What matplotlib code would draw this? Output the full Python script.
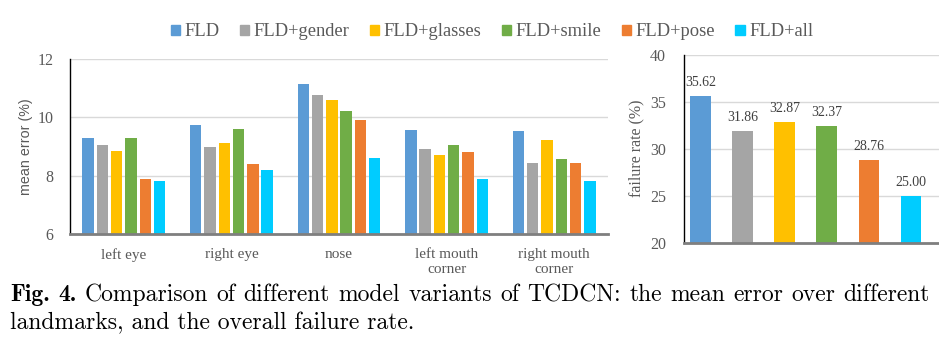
import numpy as np
import matplotlib
matplotlib.use('Agg')
from matplotlib import pyplot as plt
from matplotlib.patches import Patch

landmarks = ['left eye', 'right eye', 'nose', 'left mouth\ncorner', 'right mouth\ncorner']
models = ['FLD', 'FLD+gender', 'FLD+glasses', 'FLD+smile', 'FLD+pose', 'FLD+all']
colors = ['#5B9BD5', '#A5A5A5', '#FFC000', '#70AD47', '#ED7D31', '#00CCFF']

# mean error (%) per landmark, one list per model
err_fld = [9.30, 9.74, 11.15, 9.58, 9.54]
err_gender = [9.06, 8.98, 10.77, 8.90, 8.42]
err_glasses = [8.83, 9.12, 10.60, 8.71, 9.22]
err_smile = [9.30, 9.60, 10.22, 9.04, 8.56]
err_pose = [7.88, 8.39, 9.92, 8.80, 8.42]
err_all = [7.82, 8.21, 8.60, 7.88, 7.81]
errors = [err_fld, err_gender, err_glasses, err_smile, err_pose, err_all]

failure = [35.62, 31.86, 32.87, 32.37, 28.76, 25.00]

caption1 = 'Comparison of different model variants of TCDCN: the mean error over different'
caption2 = 'landmarks, and the overall failure rate.'

grey = '#595959'
serif = ['Liberation Serif', 'DejaVu Serif']
W, H = 939, 342

fig = plt.figure(figsize=(9.39, 3.42), dpi=100)

# left: mean error
ax1 = fig.add_axes([70 / W, 1 - 234 / H, 538 / W, 175 / H])
x = np.arange(len(landmarks))
pitch = 0.133
for i, (vals, c) in enumerate(zip(errors, colors)):
    ax1.bar(x + (i - 2.5) * pitch, vals, width=0.106, color=c, zorder=3)
ax1.set_ylim(6, 12)
ax1.set_xlim(-0.5, 4.5)
ax1.set_yticks([6, 8, 10, 12])
ax1.set_xticks(x)
ax1.set_xticklabels(landmarks, family=serif, fontsize=11, color=grey, linespacing=1.25)
for lab in ax1.get_yticklabels():
    lab.set_family(serif)
ax1.tick_params(axis='y', length=0, pad=12, labelsize=11.5, labelcolor=grey)
ax1.tick_params(axis='x', length=0, pad=10)
ax1.grid(axis='y', color='#D9D9D9', lw=1, zorder=0)
ax1.set_ylabel('mean error (%)', family=['Liberation Sans', 'DejaVu Sans'], fontsize=10.3,
               color=grey, labelpad=3)
for s in ['top', 'right']:
    ax1.spines[s].set_visible(False)
ax1.spines['left'].set_color('black')
ax1.spines['left'].set_linewidth(1)
ax1.spines['bottom'].set_color('#7F7F7F')
ax1.spines['bottom'].set_linewidth(2)
ax1.spines['bottom'].set_zorder(4)

# right: failure rate
ax2 = fig.add_axes([684 / W, 1 - 242.7 / H, 255 / W, 188 / H])
xf = np.arange(len(failure))
bars = ax2.bar(xf, failure, width=0.49, color=colors, zorder=3)
for b, v in zip(bars, failure):
    ax2.text(b.get_x() + b.get_width() / 2, v + 0.75, f'{v:.2f}', ha='center', va='bottom',
             family=serif, fontsize=10, color='#404040')
ax2.set_ylim(20, 40)
ax2.set_xlim(-0.386, 5.66)
ax2.set_yticks([20, 25, 30, 35, 40])
ax2.set_xticks([])
for lab in ax2.get_yticklabels():
    lab.set_family(serif)
ax2.tick_params(axis='y', length=0, pad=13, labelsize=11.5, labelcolor=grey)
ax2.grid(axis='y', color='#D9D9D9', lw=1, zorder=0)
ax2.set_ylabel('failure rate (%)', family=serif, fontsize=11.5, color=grey, labelpad=4)
for s in ['top', 'right']:
    ax2.spines[s].set_visible(False)
ax2.spines['left'].set_color('black')
ax2.spines['left'].set_linewidth(1)
ax2.spines['bottom'].set_color('#7F7F7F')
ax2.spines['bottom'].set_linewidth(2)
ax2.spines['bottom'].set_zorder(4)

# shared legend
handles = [Patch(color=c, label=m) for m, c in zip(models, colors)]
fig.legend(handles=handles, loc='center', bbox_to_anchor=(492 / W, 1 - 32 / H), ncol=6,
           frameon=False, prop={'family': serif, 'size': 13.3}, labelcolor=grey,
           handlelength=0.5, handleheight=0.5, handletextpad=0.25, columnspacing=1.1)

# caption, first line justified between x=10 and x=930 like the LaTeX original
cap_size = 17
y1 = 1 - 301 / H
y2 = 1 - 329 / H
renderer = fig.canvas.get_renderer()
words = [('Fig.', 'cmb10'), ('4.', 'cmb10')] + [(w, 'cmr10') for w in caption1.split()]
texts = [fig.text(0, y1, w, family=f, fontsize=cap_size, va='baseline') for w, f in words]
widths = [t.get_window_extent(renderer).width for t in texts]
gap = (930 - 10 - sum(widths)) / (len(texts) - 1)
xpos = 10
for t, w in zip(texts, widths):
    t.set_x(xpos / W)
    xpos += w + gap
fig.text(10 / W, y2, caption2, family='cmr10', fontsize=cap_size, va='baseline')

fig.savefig('out.png', dpi=100)
